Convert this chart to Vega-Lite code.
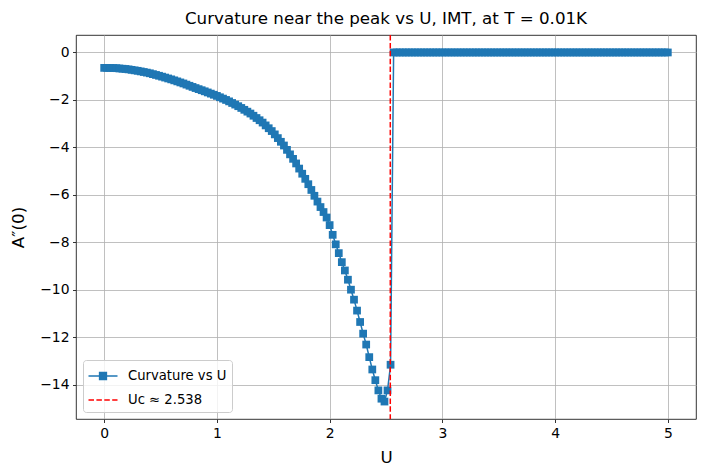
{
 "$schema": "https://vega.github.io/schema/vega-lite/v6.json",
 "width": 620,
 "height": 384,
 "autosize": {"type": "none"},
 "padding": {"left": 76, "top": 35, "right": 9, "bottom": 57},
 "background": "white",
 "title": {"text": "Curvature near the peak vs U, IMT, at T = 0.01K", "fontSize": 16.7, "font": "DejaVu Sans", "fontWeight": "normal", "color": "black", "offset": 7, "anchor": "middle"},
 "config": {
  "font": "DejaVu Sans",
  "view": {"stroke": "black", "strokeWidth": 0.8},
  "axis": {"domain": false, "grid": true, "gridColor": "#b0b0b0", "gridWidth": 0.8, "gridOpacity": 1, "tickColor": "black", "tickWidth": 0.8, "tickSize": 3.5, "labelPadding": 3.5, "labelFontSize": 13.9, "labelFont": "DejaVu Sans", "labelColor": "black", "titleFont": "DejaVu Sans", "titleFontSize": 16.7, "titleFontWeight": "normal", "titleColor": "black"}
 },
 "datasets": {
  "curve": [
{"U":0,"A":-0.650},{"U":0.027,"A":-0.651},{"U":0.0541,"A":-0.653},{"U":0.0811,"A":-0.657},{"U":0.1081,"A":-0.662},{"U":0.1351,"A":-0.674},{"U":0.1622,"A":-0.685},{"U":0.1892,"A":-0.696},{"U":0.2162,"A":-0.712},{"U":0.2432,"A":-0.732},
{"U":0.2703,"A":-0.753},{"U":0.2973,"A":-0.773},{"U":0.3243,"A":-0.798},{"U":0.3514,"A":-0.823},{"U":0.3784,"A":-0.849},{"U":0.4054,"A":-0.877},{"U":0.4324,"A":-0.912},{"U":0.4595,"A":-0.947},{"U":0.4865,"A":-0.982},{"U":0.5135,"A":-1.019},
{"U":0.5405,"A":-1.057},{"U":0.5676,"A":-1.095},{"U":0.5946,"A":-1.133},{"U":0.6216,"A":-1.175},{"U":0.6486,"A":-1.218},{"U":0.6757,"A":-1.262},{"U":0.7027,"A":-1.305},{"U":0.7297,"A":-1.354},{"U":0.7568,"A":-1.403},{"U":0.7838,"A":-1.451},
{"U":0.8108,"A":-1.499},{"U":0.8378,"A":-1.545},{"U":0.8649,"A":-1.590},{"U":0.8919,"A":-1.636},{"U":0.9189,"A":-1.684},{"U":0.9459,"A":-1.733},{"U":0.973,"A":-1.781},{"U":1.0,"A":-1.830},{"U":1.027,"A":-1.887},{"U":1.0541,"A":-1.943},
{"U":1.0811,"A":-2.000},{"U":1.1081,"A":-2.060},{"U":1.1351,"A":-2.128},{"U":1.1622,"A":-2.195},{"U":1.1892,"A":-2.263},{"U":1.2162,"A":-2.337},{"U":1.2432,"A":-2.415},{"U":1.2703,"A":-2.493},{"U":1.2973,"A":-2.572},{"U":1.3243,"A":-2.665},
{"U":1.3514,"A":-2.760},{"U":1.3784,"A":-2.854},{"U":1.4054,"A":-2.953},{"U":1.4324,"A":-3.072},{"U":1.4595,"A":-3.191},{"U":1.4865,"A":-3.310},{"U":1.5135,"A":-3.450},{"U":1.5405,"A":-3.606},{"U":1.5676,"A":-3.762},{"U":1.5946,"A":-3.918},
{"U":1.6216,"A":-4.102},{"U":1.6486,"A":-4.291},{"U":1.6757,"A":-4.480},{"U":1.7027,"A":-4.674},{"U":1.7297,"A":-4.890},{"U":1.7568,"A":-5.106},{"U":1.7838,"A":-5.322},{"U":1.8108,"A":-5.548},{"U":1.8378,"A":-5.790},{"U":1.8649,"A":-6.035},
{"U":1.8919,"A":-6.280},{"U":1.9189,"A":-6.510},{"U":1.9459,"A":-6.720},{"U":1.973,"A":-6.950},{"U":2.0,"A":-7.270},{"U":2.027,"A":-7.680},{"U":2.0541,"A":-8.080},{"U":2.0811,"A":-8.450},{"U":2.1081,"A":-8.830},{"U":2.1351,"A":-9.180},
{"U":2.1622,"A":-9.570},{"U":2.1892,"A":-9.990},{"U":2.2162,"A":-10.410},{"U":2.2432,"A":-10.870},{"U":2.2703,"A":-11.350},{"U":2.2973,"A":-11.840},{"U":2.3243,"A":-12.300},{"U":2.3514,"A":-12.830},{"U":2.3784,"A":-13.350},{"U":2.4054,"A":-13.800},
{"U":2.4324,"A":-14.230},{"U":2.4595,"A":-14.580},{"U":2.4865,"A":-14.700},{"U":2.5135,"A":-14.230},{"U":2.5405,"A":-13.150},{"U":2.5676,"A":0},{"U":2.5946,"A":0},{"U":2.6216,"A":0},{"U":2.6486,"A":0},{"U":2.6757,"A":0},
{"U":2.7027,"A":0},{"U":2.7297,"A":0},{"U":2.7568,"A":0},{"U":2.7838,"A":0},{"U":2.8108,"A":0},{"U":2.8378,"A":0},{"U":2.8649,"A":0},{"U":2.8919,"A":0},{"U":2.9189,"A":0},{"U":2.9459,"A":0},
{"U":2.973,"A":0},{"U":3.0,"A":0},{"U":3.027,"A":0},{"U":3.0541,"A":0},{"U":3.0811,"A":0},{"U":3.1081,"A":0},{"U":3.1351,"A":0},{"U":3.1622,"A":0},{"U":3.1892,"A":0},{"U":3.2162,"A":0},
{"U":3.2432,"A":0},{"U":3.2703,"A":0},{"U":3.2973,"A":0},{"U":3.3243,"A":0},{"U":3.3514,"A":0},{"U":3.3784,"A":0},{"U":3.4054,"A":0},{"U":3.4324,"A":0},{"U":3.4595,"A":0},{"U":3.4865,"A":0},
{"U":3.5135,"A":0},{"U":3.5405,"A":0},{"U":3.5676,"A":0},{"U":3.5946,"A":0},{"U":3.6216,"A":0},{"U":3.6486,"A":0},{"U":3.6757,"A":0},{"U":3.7027,"A":0},{"U":3.7297,"A":0},{"U":3.7568,"A":0},
{"U":3.7838,"A":0},{"U":3.8108,"A":0},{"U":3.8378,"A":0},{"U":3.8649,"A":0},{"U":3.8919,"A":0},{"U":3.9189,"A":0},{"U":3.9459,"A":0},{"U":3.973,"A":0},{"U":4.0,"A":0},{"U":4.027,"A":0},
{"U":4.0541,"A":0},{"U":4.0811,"A":0},{"U":4.1081,"A":0},{"U":4.1351,"A":0},{"U":4.1622,"A":0},{"U":4.1892,"A":0},{"U":4.2162,"A":0},{"U":4.2432,"A":0},{"U":4.2703,"A":0},{"U":4.2973,"A":0},
{"U":4.3243,"A":0},{"U":4.3514,"A":0},{"U":4.3784,"A":0},{"U":4.4054,"A":0},{"U":4.4324,"A":0},{"U":4.4595,"A":0},{"U":4.4865,"A":0},{"U":4.5135,"A":0},{"U":4.5405,"A":0},{"U":4.5676,"A":0},
{"U":4.5946,"A":0},{"U":4.6216,"A":0},{"U":4.6486,"A":0},{"U":4.6757,"A":0},{"U":4.7027,"A":0},{"U":4.7297,"A":0},{"U":4.7568,"A":0},{"U":4.7838,"A":0},{"U":4.8108,"A":0},{"U":4.8378,"A":0},
{"U":4.8649,"A":0},{"U":4.8919,"A":0},{"U":4.9189,"A":0},{"U":4.9459,"A":0},{"U":4.973,"A":0},{"U":5.0,"A":0}
  ],
  "crit": [{"Uc": 2.538, "series": "Uc ≈ 2.538"}]
 },
 "layer": [
  {
   "data": {"name": "curve"},
   "mark": {"type": "line", "strokeWidth": 1.5, "color": "#1f77b4", "point": {"shape": "square", "size": 60, "filled": true, "opacity": 1, "color": "#1f77b4"}},
   "encoding": {
    "x": {"field": "U", "type": "quantitative", "scale": {"domain": [-0.25, 5.25], "nice": false, "zero": false}, "axis": {"title": "U", "values": [0, 1, 2, 3, 4, 5], "format": "d", "titlePadding": 10}},
    "y": {"field": "A", "type": "quantitative", "scale": {"domain": [-15.435, 0.735], "nice": false, "zero": false}, "axis": {"title": "A″(0)", "values": [0, -2, -4, -6, -8, -10, -12, -14], "format": "d", "titlePadding": 12}}
   }
  },
  {
   "data": {"name": "crit"},
   "mark": {"type": "rule", "strokeWidth": 1.5, "strokeDash": [5.5, 2.4]},
   "encoding": {
    "x": {"field": "Uc", "type": "quantitative"},
    "color": {
     "field": "series",
     "type": "nominal",
     "scale": {"domain": ["Curvature vs U", "Uc ≈ 2.538"], "range": ["#1f77b4", "#ff0000"]},
     "legend": {
      "title": null,
      "orient": "bottom-left",
      "offset": 7,
      "padding": 5,
      "strokeColor": "#cccccc",
      "fillColor": "rgba(255,255,255,0.8)",
      "cornerRadius": 3,
      "labelFontSize": 13.2,
      "labelFont": "DejaVu Sans",
      "labelColor": "black",
      "symbolSize": 400,
      "symbolOffset": 4,
      "rowPadding": 6,
      "labelOffset": 14,
      "symbolStrokeWidth": 1.5,
      "encode": {
       "symbols": {
        "update": {
         "shape": {"signal": "datum.value === 'Curvature vs U' ? 'M-1.45,0H1.45M-0.34,-0.34H0.34V0.34H-0.34Z' : 'M-1.45,0H1.45'"},
         "strokeDash": {"signal": "datum.value === 'Curvature vs U' ? [1,0] : [5.5,2.4]"},
         "fill": {"signal": "datum.value === 'Curvature vs U' ? '#1f77b4' : 'transparent'"},
         "stroke": {"signal": "datum.value === 'Curvature vs U' ? '#1f77b4' : '#ff0000'"},
         "strokeWidth": {"value": 1.5},
         "opacity": {"value": 1}
        }
       }
      }
     }
    }
   }
  }
 ]
}
